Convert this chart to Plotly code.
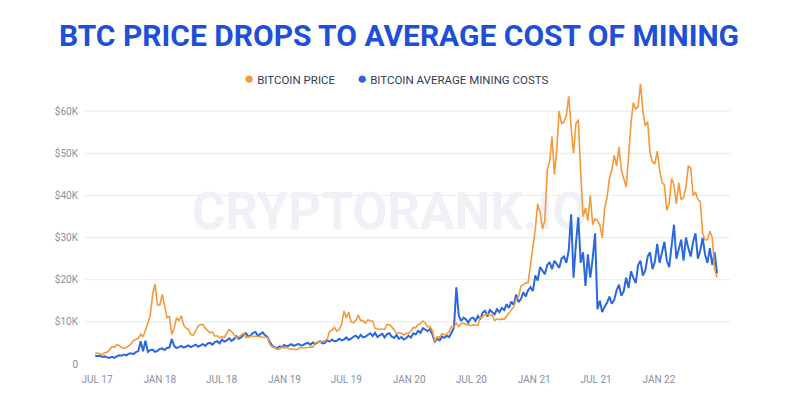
import pandas as pd
import plotly.graph_objects as go

# ---- data (weekly) ----
start_date = "2017-06-26"

btc_price = [
    # 2017 (from late June)
    2500, 2600, 2350, 2200, 2700, 2800, 3400, 4100, 4000, 4600, 4400, 3900, 3700, 3900,
    4300, 4800, 5600, 5800, 6100, 7100, 6500, 8000, 9700, 11500, 16500, 19000, 14000,
    # 2018
    14000, 16500, 13500, 11000, 11300, 7000, 8500, 11000, 10300, 11400, 9200, 8500, 8200,
    7000, 6800, 8100, 9000, 9300, 9400, 8500, 8000, 7400, 7600, 6600, 6700, 6200,
    6500, 6300, 7300, 8200, 7700, 6900, 6300, 6400, 6900, 7300, 6300, 6500, 6600,
    6600, 6600, 6500, 6500, 6350, 6400, 6300, 4700, 4000, 3900, 3500, 3500, 4000,
    # 2019
    3800, 4000, 3600, 3600, 3500, 3400, 3600, 3900, 3800, 3800, 3900, 4000, 4000,
    4900, 5200, 5200, 5400, 5500, 5900, 7800, 8000, 8700, 7800, 8200, 9300, 12600,
    11000, 12300, 10000, 9800, 10400, 11600, 10300, 10300, 9700, 10500, 10200, 10200, 8500,
    8300, 8200, 8300, 8200, 9400, 9300, 8800, 8100, 7300, 7400, 7300, 6900, 7300,
    # 2020
    7200, 7800, 8700, 8600, 9300, 9600, 10200, 9700, 8800, 8900, 7900, 5300, 6500,
    6300, 7200, 6900, 7100, 7700, 8900, 8800, 9700, 8900, 9600, 9700, 9400, 9300,
    9100, 9300, 9200, 9200, 11000, 11200, 11700, 11900, 11500, 11700, 10300, 10700, 10500,
    10700, 10600, 11400, 11900, 13000, 13600, 15300, 16000, 18400, 18800, 19200, 19300, 23500, 27000,
    # 2021
    32000, 38000, 36000, 32000, 34000, 46000, 48000, 54000, 45000, 51000, 60000, 57000, 57500,
    59000, 63500, 56000, 50000, 57000, 58000, 45000, 35000, 37000, 34000, 40000, 33000, 34500,
    34000, 33000, 30000, 37000, 39500, 44000, 46000, 49500, 47000, 51500, 46000, 44000, 42000,
    49000, 57000, 62000, 60500, 61000, 66500, 60000, 56500, 57500, 50000, 48000, 47500, 50500,
    # 2022
    46000, 43000, 42500, 36500, 38000, 44000, 42500, 38000, 43000, 39000, 39500, 42000, 47000,
    46500, 40000, 40800, 39000, 38500, 31000, 29500, 29500, 31500, 30000, 22500, 20500,
]

mining_cost = [
    # 2017 (from late June)
    1900, 1850, 1950, 1650, 1800, 1550, 1500, 1700, 1450, 1800, 2050, 1950, 2250, 2050,
    2450, 2550, 2350, 2800, 3050, 5400, 3000, 5500, 2900, 3300, 3400, 2900, 3100,
    # 2018
    3600, 3700, 3300, 3800, 3900, 5900, 4300, 3800, 4000, 4300, 3900, 4200, 4400,
    4000, 4300, 4600, 4100, 4500, 4700, 4300, 4900, 5000, 4600, 5200, 5400, 4900,
    5800, 5300, 5600, 6100, 5500, 5900, 6600, 6000, 6300, 6900, 7300, 6500, 6800,
    7400, 7600, 6700, 7200, 7500, 6800, 6400, 5200, 4300, 4000, 3700, 4200, 4000,
    # 2019
    4500, 4200, 4400, 4700, 4300, 4600, 4800, 4400, 4500, 4900, 5000, 4600, 5100,
    4800, 5100, 5400, 4900, 5000, 5600, 5300, 5800, 5400, 5500, 6000, 5600, 5800,
    6300, 5700, 6000, 6500, 6700, 6100, 6900, 6300, 6500, 7000, 7300, 6600, 7400,
    6400, 6700, 7200, 6300, 7100, 7300, 6500, 6200, 6900, 6000, 6400, 5800, 6100,
    # 2020
    6700, 6300, 7300, 7000, 7900, 7400, 8500, 8200, 7800, 8300, 7000, 5200, 6000,
    5600, 6500, 6200, 6700, 6400, 7400, 8600, 18200, 11500, 10200, 11000, 10600, 9800,
    10800, 11000, 10200, 11400, 10600, 12200, 12600, 11300, 12800, 12200, 11800, 13000, 12300,
    13300, 12800, 14200, 13300, 14800, 14000, 16500, 14700, 15400, 17000, 16000, 17500, 18200, 17300,
    # 2021
    21000, 19800, 23000, 22000, 21300, 23500, 24200, 22500, 24500, 23700, 22800, 25000, 25500,
    24000, 27000, 35500, 20500, 28500, 34800, 24000, 26500, 18500, 26000, 20500, 25000, 31000,
    13000, 15000, 12300, 13600, 14500, 16000, 14300, 15200, 17500, 18800, 16200, 17300, 20500,
    18000, 22000, 20500, 19200, 23500, 24500, 21000, 22200, 25500, 26500, 22500, 24200, 28500,
    # 2022
    24000, 26500, 29000, 24500, 23000, 28000, 33000, 25000, 27000, 29500, 24500, 30000, 27500,
    25500, 29000, 31000, 25000, 27000, 30000, 26000, 24000, 27500, 23500, 26500, 21500,
]

x_tick_vals = ["2017-07-01", "2018-01-01", "2018-07-01", "2019-01-01", "2019-07-01",
               "2020-01-01", "2020-07-01", "2021-01-01", "2021-07-01", "2022-01-01"]
x_tick_text = ["JUL 17", "JAN 18", "JUL 18", "JAN 19", "JUL 19",
               "JAN 20", "JUL 20", "JAN 21", "JUL 21", "JAN 22"]

y_tick_vals = [0, 10000, 20000, 30000, 40000, 50000, 60000]
y_tick_text = ["0", "$10K", "$20K", "$30K", "$40K", "$50K", "$60K"]

series_names = ["BITCOIN PRICE", "BITCOIN AVERAGE MINING COSTS"]
series_colors = ["#f5993a", "#2b68dc"]

price_dates = pd.date_range(start_date, periods=len(btc_price), freq="7D")
cost_dates = pd.date_range(start_date, periods=len(mining_cost), freq="7D")

W, H = 798, 394
ML, MR, MT, MB = 85, 68, 69, 30
PW, PH = W - ML - MR, H - MT - MB


def px_x(px):
    return (px - ML) / PW


def px_y(py):
    return (H - MB - py) / PH


fig = go.Figure()

# watermark (as a trace so it sits beneath the lines)
fig.add_trace(go.Scatter(
    x=[pd.Timestamp("2019-11-05")], y=[35000], mode="text",
    text=["CRYPTORANK.IO"], showlegend=False, hoverinfo="skip",
    textfont=dict(family="Roboto", size=51, color="#eff1f6", weight="bold"),
))

for v in y_tick_vals[1:]:
    fig.add_hline(y=v, line=dict(color="#e8e9ee", width=1), layer="below")

fig.add_trace(go.Scatter(
    x=cost_dates, y=mining_cost, mode="lines", name=series_names[1],
    line=dict(color=series_colors[1], width=2), showlegend=False,
))
fig.add_trace(go.Scatter(
    x=price_dates, y=btc_price, mode="lines", name=series_names[0],
    line=dict(color=series_colors[0], width=1.6), showlegend=False,
))

# legend drawn as coloured dots + labels
legend_px = [242, 355]
for name, col, lx in zip(series_names, series_colors, legend_px):
    fig.add_annotation(
        x=px_x(lx), y=px_y(78), xref="paper", yref="paper",
        xanchor="left", yanchor="middle", showarrow=False,
        text=f"<span style='color:{col};font-size:17px'>●</span>&nbsp;{name}",
        font=dict(family="Roboto", size=11.5, color="#343b55"),
    )

fig.update_layout(
    width=W, height=H, autosize=False,
    margin=dict(l=ML, r=MR, t=MT, b=MB, autoexpand=False),
    paper_bgcolor="white", plot_bgcolor="white",
    font=dict(family="Roboto", color="#8a8fa0"),
    title=dict(
        text="<b>BTC PRICE DROPS TO AVERAGE COST OF MINING</b>",
        x=0.5, xref="container", xanchor="center",
        y=1 - 35 / H, yref="container", yanchor="middle",
        font=dict(family="Roboto", size=30, color="#1d4fd8"),
    ),
    showlegend=False,
    xaxis=dict(
        range=["2017-05-27", "2022-07-28"],
        tickmode="array", tickvals=x_tick_vals, ticktext=x_tick_text,
        showgrid=False, zeroline=False, showline=False,
        ticks="outside", ticklen=6, tickcolor="rgba(0,0,0,0)",
        tickfont=dict(size=10, color="#8a8fa0"),
    ),
    yaxis=dict(
        range=[0, 70000],
        tickmode="array", tickvals=y_tick_vals, ticktext=y_tick_text,
        showgrid=False, zeroline=False, showline=False,
        ticks="outside", ticklen=4, tickcolor="rgba(0,0,0,0)",
        tickfont=dict(size=10, color="#8a8fa0"),
    ),
)

fig.write_html(
    "out.html",
    config={"displayModeBar": False},
    post_script="document.body.style.margin='0';",
)
